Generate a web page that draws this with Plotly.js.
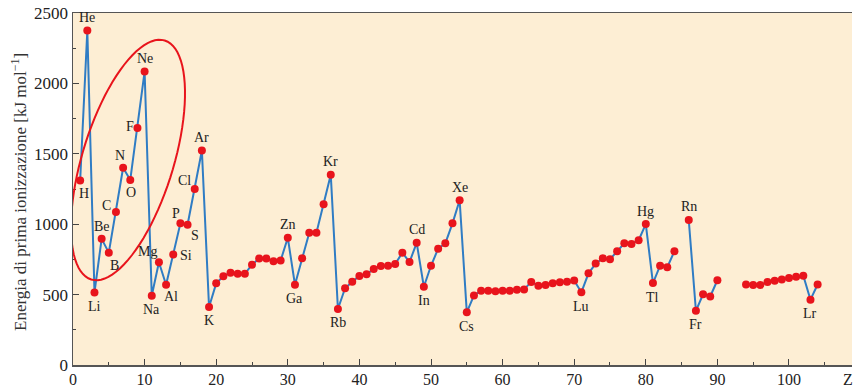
<!DOCTYPE html>
<html><head><meta charset="utf-8">
<script src="https://cdn.plot.ly/plotly-3.0.1.min.js"></script>
<style>html,body{margin:0;padding:0;background:#fff}#c{width:854px;height:389px}</style>
</head><body><div id="c"></div>
<script>
// Atomic number Z
const Z = Array.from({length:104},(_,i)=>i+1);
// First ionization energy (kJ/mol); null = not plotted
const energy = [
 1310, 2376, 515, 896, 798, 1087, 1401, 1314, 1684, 2084,
 492, 730, 570, 784, 1006, 996, 1250, 1523, 412, 580,
 630, 656, 648, 648, 712, 756, 756, 736, 742, 904,
 570, 758, 940, 940, 1141, 1352, 398, 545, 592, 632,
 644, 682, 703, 705, 717, 798, 731, 868, 556, 705,
 826, 864, 1006, 1170, 374, 494, 528, 528, 523, 528,
 528, 535, 537, 590, 563, 568, 580, 587, 592, 600,
 516, 651, 720, 758, 751, 808, 864, 859, 886, 1001,
 582, 705, 694, 808, null, 1030, 385, 502, 487, 602,
 null, null, null, 572, 568, 568, 590, 599, 608, 618,
 627, 634, 464, 572
];
// Labelled elements
const labelZ = [1,2,3,4,5,6,7,8,9,10,11,12,13,14,15,16,17,18,19,30,31,36,37,48,49,54,55,71,80,81,86,87,103];
const labelText = ["H","He","Li","Be","B","C","N","O","F","Ne","Na","Mg","Al","Si","P","S","Cl","Ar","K","Zn","Ga","Kr","Rb","Cd","In","Xe","Cs","Lu","Hg","Tl","Rn","Fr","Lr"];
// label offset (pixels) style: [xshift, yshift]
const labelOff = {
 "H":[4,-13],"He":[0,13],"Li":[0,-14],"Be":[0,12],"B":[6,-13],"C":[-9,6],"N":[-3,12],"O":[1,-13],
 "F":[-7,1],"Ne":[0,13],"Na":[0,-14],"Mg":[-11,11],"Al":[5,-12],"Si":[13,-1],"P":[-4,10],"S":[7,-11],
 "Cl":[-10,9],"Ar":[0,13],"K":[0,-14],"Zn":[0,13],"Ga":[0,-14],"Kr":[0,13],"Rb":[0,-14],"Cd":[0,13],
 "In":[0,-14],"Xe":[0,13],"Cs":[0,-14],"Lu":[0,-14],"Hg":[0,13],"Tl":[0,-14],"Rn":[0,13],"Fr":[0,-14],"Lr":[0,-14]
};

const L=73, R=2, T=13, B=24, W=854, H=389;
const xmax=108.8, ymax=2500;
const pw=W-L-R, ph=H-T-B;
const px2x = p => (p-L)/pw*xmax;
const py2y = p => (H-B-p)/ph*ymax;
const pxPaper = p => (p-L)/pw;
const pyPaper = p => (H-B-p)/ph;

// rotated ellipse (pixel-space parameters) converted to data coords
function ellipsePath(cx,cy,a,b,angDeg){
  const t=angDeg*Math.PI/180; let d='';
  for(let i=0;i<=90;i++){
    const u=i/90*2*Math.PI;
    const ex=a*Math.cos(u), ey=b*Math.sin(u);
    const X=cx+ex*Math.cos(t)-ey*Math.sin(t);
    const Y=cy-(ex*Math.sin(t)+ey*Math.cos(t));
    d+=(i?'L':'M')+px2x(X).toFixed(3)+','+py2y(Y).toFixed(2);
  }
  return d+'Z';
}

const ann = labelZ.map((z,i)=>{
  const s=labelText[i], o=labelOff[s]||[0,12];
  return {x:z,y:energy[z-1],text:s,showarrow:false,xshift:o[0],yshift:o[1],
    font:{family:'Liberation Serif',size:14,color:'#222'}};
});
ann.push({xref:'paper',yref:'paper',x:pxPaper(848),y:pyPaper(379),xanchor:'center',yanchor:'middle',
  text:'Z',showarrow:false,font:{family:'Liberation Serif',size:16,color:'#222'}});
ann.push({xref:'paper',yref:'paper',x:pxPaper(19),y:pyPaper(192),xanchor:'center',yanchor:'middle',
  textangle:-90,text:'Energia di prima ionizzazione [kJ mol<sup>−1</sup>]',showarrow:false,
  font:{family:'Liberation Serif',size:17,color:'#333'}});

const trace={x:Z,y:energy,mode:'lines+markers',connectgaps:false,
  line:{color:'#2f7cc4',width:2},
  marker:{color:'#e8141c',size:8},hoverinfo:'x+y'};

const layout={
  width:W,height:H,margin:{l:L,r:R,t:T,b:B},
  paper_bgcolor:'#ffffff',plot_bgcolor:'#fdeed4',showlegend:false,
  font:{family:'Liberation Serif',color:'#222',size:16},
  xaxis:{range:[0,xmax],tick0:0,dtick:10,ticks:'inside',ticklen:6,tickwidth:1,tickcolor:'#444',
    minor:{dtick:5,ticks:'inside',ticklen:3,tickcolor:'#444'},
    showgrid:false,zeroline:false,showline:true,linecolor:'#555',linewidth:1.5,mirror:true,
    tickfont:{size:16},ticklabelstandoff:-1},
  yaxis:{range:[0,ymax],tick0:0,dtick:500,ticks:'inside',ticklen:6,tickwidth:1,tickcolor:'#444',
    minor:{dtick:250,ticks:'inside',ticklen:3,tickcolor:'#444'},
    showgrid:false,zeroline:false,showline:true,linecolor:'#555',linewidth:1.5,
    tickfont:{size:17}},
  annotations:ann,
  shapes:[{type:'path',path:ellipsePath(128,160,125,45.6,72.9),line:{color:'#e8141c',width:2},fillcolor:'rgba(0,0,0,0)',layer:'above'}]
};
Plotly.newPlot('c',[trace],layout,{displayModeBar:false,staticPlot:true});
</script></body></html>
